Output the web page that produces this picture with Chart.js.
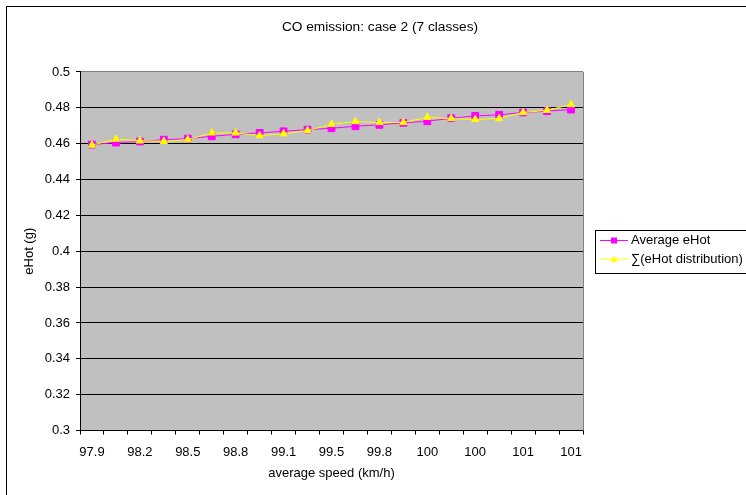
<!DOCTYPE html>
<html>
<head>
<meta charset="utf-8">
<title>CO emission: case 2 (7 classes)</title>
<script src="https://cdn.jsdelivr.net/npm/chart.js@4/dist/chart.umd.min.js"></script>
<style>
  html, body { margin: 0; padding: 0; background: #fff; }
  #wrap { width: 746px; height: 495px; }
</style>
</head>
<body>
<div id="wrap"><canvas id="c" width="746" height="495"></canvas></div>
<script>
// average speed (km/h) for each run
const speeds = ['97.9', '98.1', '98.2', '98.4', '98.5', '98.7', '98.8', '99', '99.1', '99.3', '99.5',
                '99.6', '99.8', '99.9', '100', '100', '100', '101', '101', '101', '101'];

// eHot (g)
const averageEHot = [0.4595, 0.4606, 0.4612, 0.4622, 0.4628, 0.4641, 0.4652, 0.4660, 0.4669, 0.4678, 0.4686,
                     0.4697, 0.4705, 0.4716, 0.4725, 0.4742, 0.4755, 0.4761, 0.4774, 0.4781, 0.4790];
const sumDistribution = [0.4592, 0.4625, 0.4616, 0.4613, 0.4622, 0.4660, 0.4660, 0.4645, 0.4655, 0.4673, 0.4708,
                         0.4723, 0.4718, 0.4718, 0.4747, 0.4740, 0.4735, 0.4740, 0.4774, 0.4786, 0.4818];

const seriesNames = ['Average eHot', '\u2211(eHot distribution)'];

const FONT = "'Liberation Sans', Arial, sans-serif";
const PLOT_BG = '#C0C0C0';

// gray plot background, plot frame, outer chart frame and boxed legend
const excelLook = {
  id: 'excelLook',
  afterLayout(chart) {
    // centre the title across the whole framed chart, legend column included
    if (chart.titleBlock) {
      chart.titleBlock.left = 14;
      chart.titleBlock.right = 746;
    }
  },
  beforeDraw(chart) {
    const { ctx, chartArea: a } = chart;
    ctx.save();
    ctx.fillStyle = PLOT_BG;
    ctx.fillRect(a.left, a.top, a.right - a.left, a.bottom - a.top);
    ctx.restore();
  },
  beforeDatasetsDraw(chart) {
    const { ctx, chartArea: a } = chart;
    ctx.save();
    ctx.strokeStyle = '#808080';
    ctx.lineWidth = 1;
    ctx.beginPath();
    ctx.moveTo(Math.round(a.right) + 0.5, a.top);
    ctx.lineTo(Math.round(a.right) + 0.5, a.bottom);
    ctx.stroke();
    ctx.restore();
  },
  afterDraw(chart) {
    const { ctx } = chart;
    ctx.save();
    // outer frame
    ctx.strokeStyle = '#000';
    ctx.lineWidth = 1;
    ctx.strokeRect(6.5, 6.5, 800, 600);

    // legend box
    const bx = 595.5, by = 230.5, bw = 151, bh = 43;
    ctx.fillStyle = '#fff';
    ctx.fillRect(bx, by, bw, bh);
    ctx.strokeRect(bx, by, bw, bh);

    const rows = [240, 258.5];
    chart.data.datasets.forEach((ds, i) => {
      const y = rows[i];
      ctx.strokeStyle = ds.borderColor;
      ctx.lineWidth = 1;
      ctx.beginPath();
      ctx.moveTo(600, y + 0.5);
      ctx.lineTo(628, y + 0.5);
      ctx.stroke();
      ctx.fillStyle = ds.backgroundColor;
      ctx.beginPath();
      if (ds.pointStyle === 'rect') {
        ctx.rect(611, y - 2.5, 6, 6);
      } else {
        ctx.moveTo(614, y - 3);
        ctx.lineTo(617.5, y + 3.5);
        ctx.lineTo(610.5, y + 3.5);
        ctx.closePath();
      }
      ctx.fill();
      ctx.fillStyle = '#000';
      ctx.font = '13px ' + FONT;
      ctx.textBaseline = 'middle';
      ctx.textAlign = 'left';
      ctx.fillText(ds.label, 631, y + 0.5);
    });
    ctx.restore();
  }
};

new Chart(document.getElementById('c'), {
  type: 'line',
  data: {
    labels: speeds,
    datasets: [
      {
        label: seriesNames[0],
        data: averageEHot,
        borderColor: '#FF00FF',
        backgroundColor: '#FF00FF',
        borderWidth: 1,
        pointStyle: 'rect',
        pointRadius: 4.8,
        pointBorderWidth: 1,
        pointBackgroundColor: '#FF00FF',
        pointBorderColor: '#FF00FF',
        tension: 0,
        order: 1
      },
      {
        label: seriesNames[1],
        data: sumDistribution,
        borderColor: '#FFFF00',
        backgroundColor: '#FFFF00',
        borderWidth: 1,
        pointStyle: 'triangle',
        pointRadius: 4.2,
        pointBorderWidth: 1,
        pointBackgroundColor: '#FFFF00',
        pointBorderColor: '#FFFF00',
        tension: 0,
        order: 0
      }
    ]
  },
  options: {
    responsive: false,
    animation: false,
    devicePixelRatio: 1,
    layout: { padding: { left: 14, right: 163, top: 0, bottom: 0 } },
    plugins: {
      legend: { display: false },
      tooltip: { enabled: false },
      title: {
        display: true,
        text: 'CO emission: case 2 (7 classes)',
        color: '#000',
        font: { family: FONT, size: 13.7, weight: 'normal' },
        padding: { top: 19.5, bottom: 36 }
      }
    },
    scales: {
      x: {
        type: 'category',
        offset: true,
        grid: {
          offset: true,
          drawOnChartArea: false,
          drawTicks: true,
          tickLength: 4,
          tickColor: '#000'
        },
        border: { display: true, color: '#000', width: 1 },
        ticks: {
          autoSkip: false,
          maxRotation: 0,
          color: '#000',
          padding: 10,
          font: { family: FONT, size: 13 },
          callback: (v, i) => (i % 2 === 0 ? speeds[i] : '')
        },
        title: {
          display: true,
          text: 'average speed (km/h)',
          color: '#000',
          font: { family: FONT, size: 13 },
          padding: { top: 4, bottom: 14 }
        },
        afterFit: (s) => { s.height = 495 - 430.5; }
      },
      y: {
        min: 0.3,
        max: 0.5,
        grid: {
          color: (c) => (c.tick && Math.abs(c.tick.value - 0.5) < 1e-9 ? '#808080' : '#000'),
          tickColor: '#000',
          tickLength: 4,
          lineWidth: 1
        },
        border: { display: true, color: '#000', width: 1 },
        ticks: {
          stepSize: 0.02,
          color: '#000',
          padding: 6,
          font: { family: FONT, size: 13 },
          callback: (v) => String(parseFloat(Number(v).toFixed(2)))
        },
        title: {
          display: true,
          text: 'eHot (g)',
          color: '#000',
          font: { family: FONT, size: 13 },
          padding: { top: 8, bottom: 4 }
        },
        afterFit: (s) => { s.width = 66; }
      }
    }
  },
  plugins: [excelLook]
});
</script>
</body>
</html>
